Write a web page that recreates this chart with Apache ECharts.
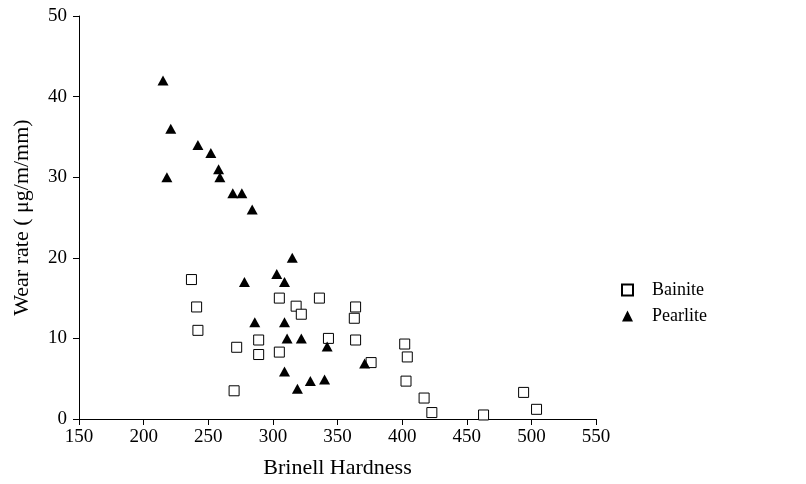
<!DOCTYPE html>
<html>
<head>
<meta charset="utf-8">
<script src="https://cdn.jsdelivr.net/npm/echarts@6/dist/echarts.min.js"></script>
<style>
  html, body { margin: 0; padding: 0; background: #fff; }
  #chart { width: 806px; height: 484px; }
</style>
</head>
<body>
<div id="chart"></div>
<script>
// Bainite (open squares): [hardness, wear rate]
const bainite = [
  [237, 17.3], [241, 13.9], [242, 11.0], [272, 8.9], [289, 9.8], [289, 8.0],
  [270, 3.5], [305, 15.0], [318, 14.0], [322, 13.0], [336, 15.0], [305, 8.3],
  [343, 10.0], [364, 13.9], [363, 12.5], [364, 9.8], [376, 7.0], [402, 9.3],
  [404, 7.7], [403, 4.7], [417, 2.6], [423, 0.8], [463, 0.5], [494, 3.3], [504, 1.2]
];
// Pearlite (filled triangles)
const pearlite = [
  [215, 42], [221, 36], [242, 34], [252, 33], [258, 31], [259, 30], [218, 30],
  [269, 28], [276, 28], [284, 26], [315, 20], [303, 18], [278, 17], [309, 17],
  [286, 12], [309, 12], [311, 10], [322, 10], [342, 9], [371, 6.9], [309, 5.9],
  [329, 4.7], [340, 4.9], [319, 3.75]
];
const seriesNames = ['Bainite', 'Pearlite'];

const font = 'Liberation Serif, Times New Roman, serif';
const chart = echarts.init(document.getElementById('chart'));
chart.setOption({
  animation: false,
  backgroundColor: '#fff',
  grid: { left: 79, right: 210, top: 16, bottom: 64 },
  legend: {
    orient: 'vertical', left: 616, top: 276, itemGap: 8,
    itemWidth: 11, itemHeight: 11,
    textStyle: { fontFamily: font, fontSize: 18, color: '#000', padding: [0, 0, 0, 14] },
    data: [
      { name: seriesNames[0], icon: 'rect' },
      { name: seriesNames[1], icon: 'triangle' }
    ]
  },
  xAxis: {
    type: 'value', min: 150, max: 550, interval: 50,
    name: 'Brinell Hardness', nameLocation: 'middle', nameGap: 38,
    nameTextStyle: { fontFamily: font, fontSize: 22, color: '#000' },
    axisLine: { show: true, onZero: false, lineStyle: { color: '#000', width: 1 } },
    axisTick: { show: true, length: 6, lineStyle: { color: '#000' } },
    axisLabel: { fontFamily: font, fontSize: 19, color: '#000', margin: 9 },
    splitLine: { show: false }
  },
  yAxis: {
    type: 'value', min: 0, max: 50, interval: 10,
    name: 'Wear rate ( μg/m/mm)', nameLocation: 'middle', nameGap: 46,
    nameTextStyle: { fontFamily: font, fontSize: 22, color: '#000' },
    axisLine: { show: true, lineStyle: { color: '#000', width: 1 } },
    axisTick: { show: true, length: 6, lineStyle: { color: '#000' } },
    axisLabel: { fontFamily: font, fontSize: 19, color: '#000', margin: 12 },
    splitLine: { show: false }
  },
  series: [
    {
      name: seriesNames[0], type: 'scatter', data: bainite,
      symbol: 'rect', symbolSize: 10,
      itemStyle: { color: '#fff', borderColor: '#000', borderWidth: 1, opacity: 1 }
    },
    {
      name: seriesNames[1], type: 'scatter', data: pearlite,
      symbol: 'triangle', symbolSize: [11, 10],
      itemStyle: { color: '#000', opacity: 1 }
    }
  ]
});
</script>
</body>
</html>
